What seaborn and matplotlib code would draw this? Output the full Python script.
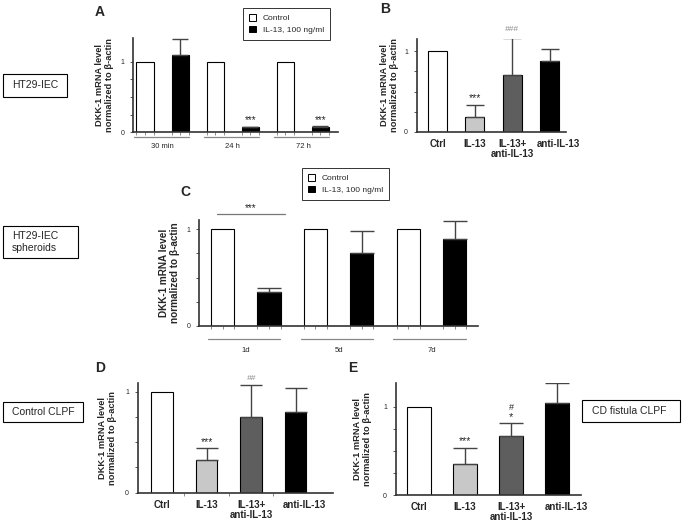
import numpy as np
import pandas as pd
import seaborn as sns
import matplotlib.pyplot as plt
import matplotlib.transforms as mtransforms
from matplotlib.patches import Patch, Rectangle

# panel A: HT29-IEC, time course
a_groups = ['30 min', '24 h', '72 h']
a_control = [1.0, 1.0, 1.0]
a_il13 = [1.09, 0.07, 0.08]
a_il13_err = [0.23, 0.01, 0.01]

# panel C: HT29-IEC spheroids
c_groups = ['1d', '5d', '7d']
c_control = [1.0, 1.0, 1.0]
c_il13 = [0.35, 0.75, 0.90]
c_il13_err = [0.04, 0.23, 0.185]

# panels B, D, E: treatment series
treat_labels = ['Ctrl', 'IL-13', 'IL-13+\nanti-IL-13', 'anti-IL-13']
b_means = [1.0, 0.18, 0.70, 0.88]
b_err = [0.0, 0.16, 0.46, 0.15]
d_means = [1.0, 0.32, 0.75, 0.80]
d_err = [0.0, 0.12, 0.32, 0.24]
e_means = [1.0, 0.35, 0.67, 1.045]
e_err = [0.0, 0.18, 0.14, 0.22]

legend_labels = ['Control', 'IL-13, 100 ng/ml']
treat_colors = ['white', '#c8c8c8', '#5e5e5e', 'black']
ylab = 'DKK-1 mRNA level\nnormalized to \u03b2-actin'

sns.set_theme(style='white')
plt.rcParams['font.family'] = ['Liberation Sans', 'DejaVu Sans']

W, H = 686, 526
fig = plt.figure(figsize=(W / 100, H / 100), dpi=100)


def px_axes(l, t, r, b):
    return fig.add_axes([l / W, 1 - b / H, (r - l) / W, (b - t) / H])


def style_axes(ax, ylim, xlim, ylab_px, ylab_size=6.7):
    ax.set_ylim(*ylim)
    ax.set_xlim(*xlim)
    for s in ['top', 'right']:
        ax.spines[s].set_visible(False)
    for s in ['left', 'bottom']:
        ax.spines[s].set_color('#333333')
        ax.spines[s].set_linewidth(1.2)
    ax.set_yticks([0, 1])
    ax.set_yticklabels(['0', '1'], fontsize=5)
    ax.set_yticks([0.25, 0.5, 0.75], minor=True)
    ax.tick_params(axis='y', which='both', direction='out', length=2.5,
                   width=0.7, color='#555555', left=True, pad=4)
    ax.set_ylabel(ylab, fontsize=ylab_size, fontweight='bold', linespacing=1.2)
    bb = ax.get_position()
    ax.yaxis.set_label_coords(ylab_px / (bb.width * W), 0.5)


def grouped_panel(ax, groups, control, il13, err, capsize, line_y, lab_pad):
    df = pd.DataFrame({
        'group': groups * 2,
        'treatment': [legend_labels[0]] * 3 + [legend_labels[1]] * 3,
        'value': control + il13,
    })
    sns.barplot(data=df, x='group', y='value', hue='treatment',
                palette=['white', 'black'], width=1.0, gap=0.5,
                edgecolor='black', linewidth=0.8, errorbar=None,
                legend=False, ax=ax)
    pos = np.arange(len(groups)) + 0.25
    ax.errorbar(pos, il13, yerr=[np.zeros(3), err], fmt='none',
                ecolor='#444444', elinewidth=1, capsize=capsize, capthick=1)
    minor = [g + o for g in range(3) for o in np.arange(-0.375, 0.376, 0.125)]
    ax.set_xticks(minor, minor=True)
    ax.set_xticks(range(3))
    ax.set_xticklabels(groups, fontsize=5.5)
    ax.tick_params(axis='x', which='major', length=0, pad=lab_pad)
    ax.tick_params(axis='x', which='minor', direction='out', length=2,
                   width=0.6, color='#777777', bottom=True)
    ax.set_xlabel('')
    tr = ax.get_xaxis_transform()
    for g in range(3):
        ax.plot([g - 0.41, g + 0.37], [line_y, line_y], color='#888888',
                lw=0.9, transform=tr, clip_on=False)


def treat_panel(ax, means, err, width, capsize):
    df = pd.DataFrame({'treatment': treat_labels, 'value': means})
    sns.barplot(data=df, x='treatment', y='value', hue='treatment',
                palette=treat_colors, width=width, edgecolor='black',
                linewidth=0.8, errorbar=None, legend=False, ax=ax)
    ax.errorbar(np.arange(1, 4), means[1:], yerr=[np.zeros(3), err[1:]],
                fmt='none', ecolor='#444444', elinewidth=1, capsize=capsize,
                capthick=1)
    ax.set_xticks(range(4))
    ax.set_xticklabels(treat_labels, fontsize=7, fontweight='bold',
                       linespacing=1.05)
    ax.tick_params(axis='x', which='major', length=0, pad=5)
    ax.set_xlabel('')
    # last label sits a little to the right of its bar
    last = ax.get_xticklabels()[-1]
    last.set_transform(last.get_transform() +
                       mtransforms.ScaledTranslation(9 / 100, 0, fig.dpi_scale_trans))


def add_legend(ax, l, t):
    handles = [Patch(facecolor='white', edgecolor='black', linewidth=0.7),
               Patch(facecolor='black', edgecolor='black', linewidth=0.7)]
    leg = ax.legend(handles, legend_labels, loc='upper left',
                    bbox_to_anchor=(l / W, 1 - t / H),
                    bbox_transform=fig.transFigure, fontsize=6,
                    handlelength=0.9, handleheight=0.9, handletextpad=0.8,
                    borderpad=0.7, labelspacing=0.4, frameon=True,
                    fancybox=False, borderaxespad=0)
    leg.get_frame().set_edgecolor('black')
    leg.get_frame().set_linewidth(0.7)


def label_box(l, t, r, b, text, tx, fs=7.5):
    fig.patches.append(Rectangle((l / W, 1 - b / H), (r - l) / W, (b - t) / H,
                                 transform=fig.transFigure, fc='white',
                                 ec='black', lw=0.8))
    fig.text(tx / W, 1 - (t + b) / 2 / H, text, fontsize=fs, ha='left',
             va='center', linespacing=1.15)


# A
axA = px_axes(133.3, 38.3, 338, 132.3)
grouped_panel(axA, a_groups, a_control, a_il13, a_il13_err, 6.1, -0.055, 8)
style_axes(axA, (0, 1.33), (-0.42, 2.5), -19)
for g in [1, 2]:
    axA.text(g + 0.25, 0.17, '***', fontsize=7, ha='center', va='center')
add_legend(axA, 243, 8)

# B
axB = px_axes(417, 39, 566, 132)
treat_panel(axB, b_means, b_err, 0.51, 6.8)
style_axes(axB, (0, 1.15), (-0.55, 3.44), -18)
axB.text(1, 0.42, '***', fontsize=7.5, ha='center', va='center')
axB.text(2, 1.27, '###', fontsize=6, ha='center', va='center',
         color='#888888', style='italic', clip_on=False)

# C
axC = px_axes(199.3, 220, 478, 326)
grouped_panel(axC, c_groups, c_control, c_il13, c_il13_err, 8.3, -0.12, 15)
style_axes(axC, (0, 1.093), (-0.5, 2.5), -19, ylab_size=7.2)
axC.plot([-0.31, 0.42], [1.155, 1.155], color='#777777', lw=0.9,
         clip_on=False)
axC.text(0.05, 1.215, '***', fontsize=7, ha='center', va='center',
         clip_on=False)
add_legend(axC, 302, 168)

# D
axD = px_axes(138, 383, 333, 492.7)
treat_panel(axD, d_means, d_err, 0.48, 7.9)
style_axes(axD, (0, 1.086), (-0.54, 3.84), -21)
axD.set_xticks([0.5, 1.5, 2.5], minor=True)
axD.tick_params(axis='x', which='minor', direction='out', length=2,
                width=0.6, color='#777777', bottom=True)
axD.text(1, 0.505, '***', fontsize=7.5, ha='center', va='center')
axD.text(2, 1.135, '##', fontsize=6, ha='center', va='center',
         color='#888888', style='italic', clip_on=False)

# E
axE = px_axes(396, 383, 581, 495)
treat_panel(axE, e_means, e_err, 0.51, 8.6)
style_axes(axE, (0, 1.268), (-0.5, 3.52), -24)
axE.text(1, 0.61, '***', fontsize=7.5, ha='center', va='center')
axE.text(2, 0.88, '*', fontsize=8, ha='center', va='center')
axE.text(2, 0.99, '#', fontsize=6.5, ha='center', va='center')

# panel letters
for txt, x, y in [('A', 100, 12), ('B', 385, 9), ('C', 185, 192),
                  ('D', 100, 368), ('E', 353, 368)]:
    fig.text(x / W, 1 - y / H, txt, fontsize=10, fontweight='bold',
             ha='center', va='center')

# row boxes
label_box(3, 74, 67, 97, 'HT29-IEC', 12)
label_box(3, 226, 78, 258, 'HT29-IEC\nspheroids', 12)
label_box(3, 402, 83, 422, 'Control CLPF', 12)
label_box(582, 400, 680, 422, 'CD fistula CLPF', 592)

fig.savefig('out.png', dpi=100)
